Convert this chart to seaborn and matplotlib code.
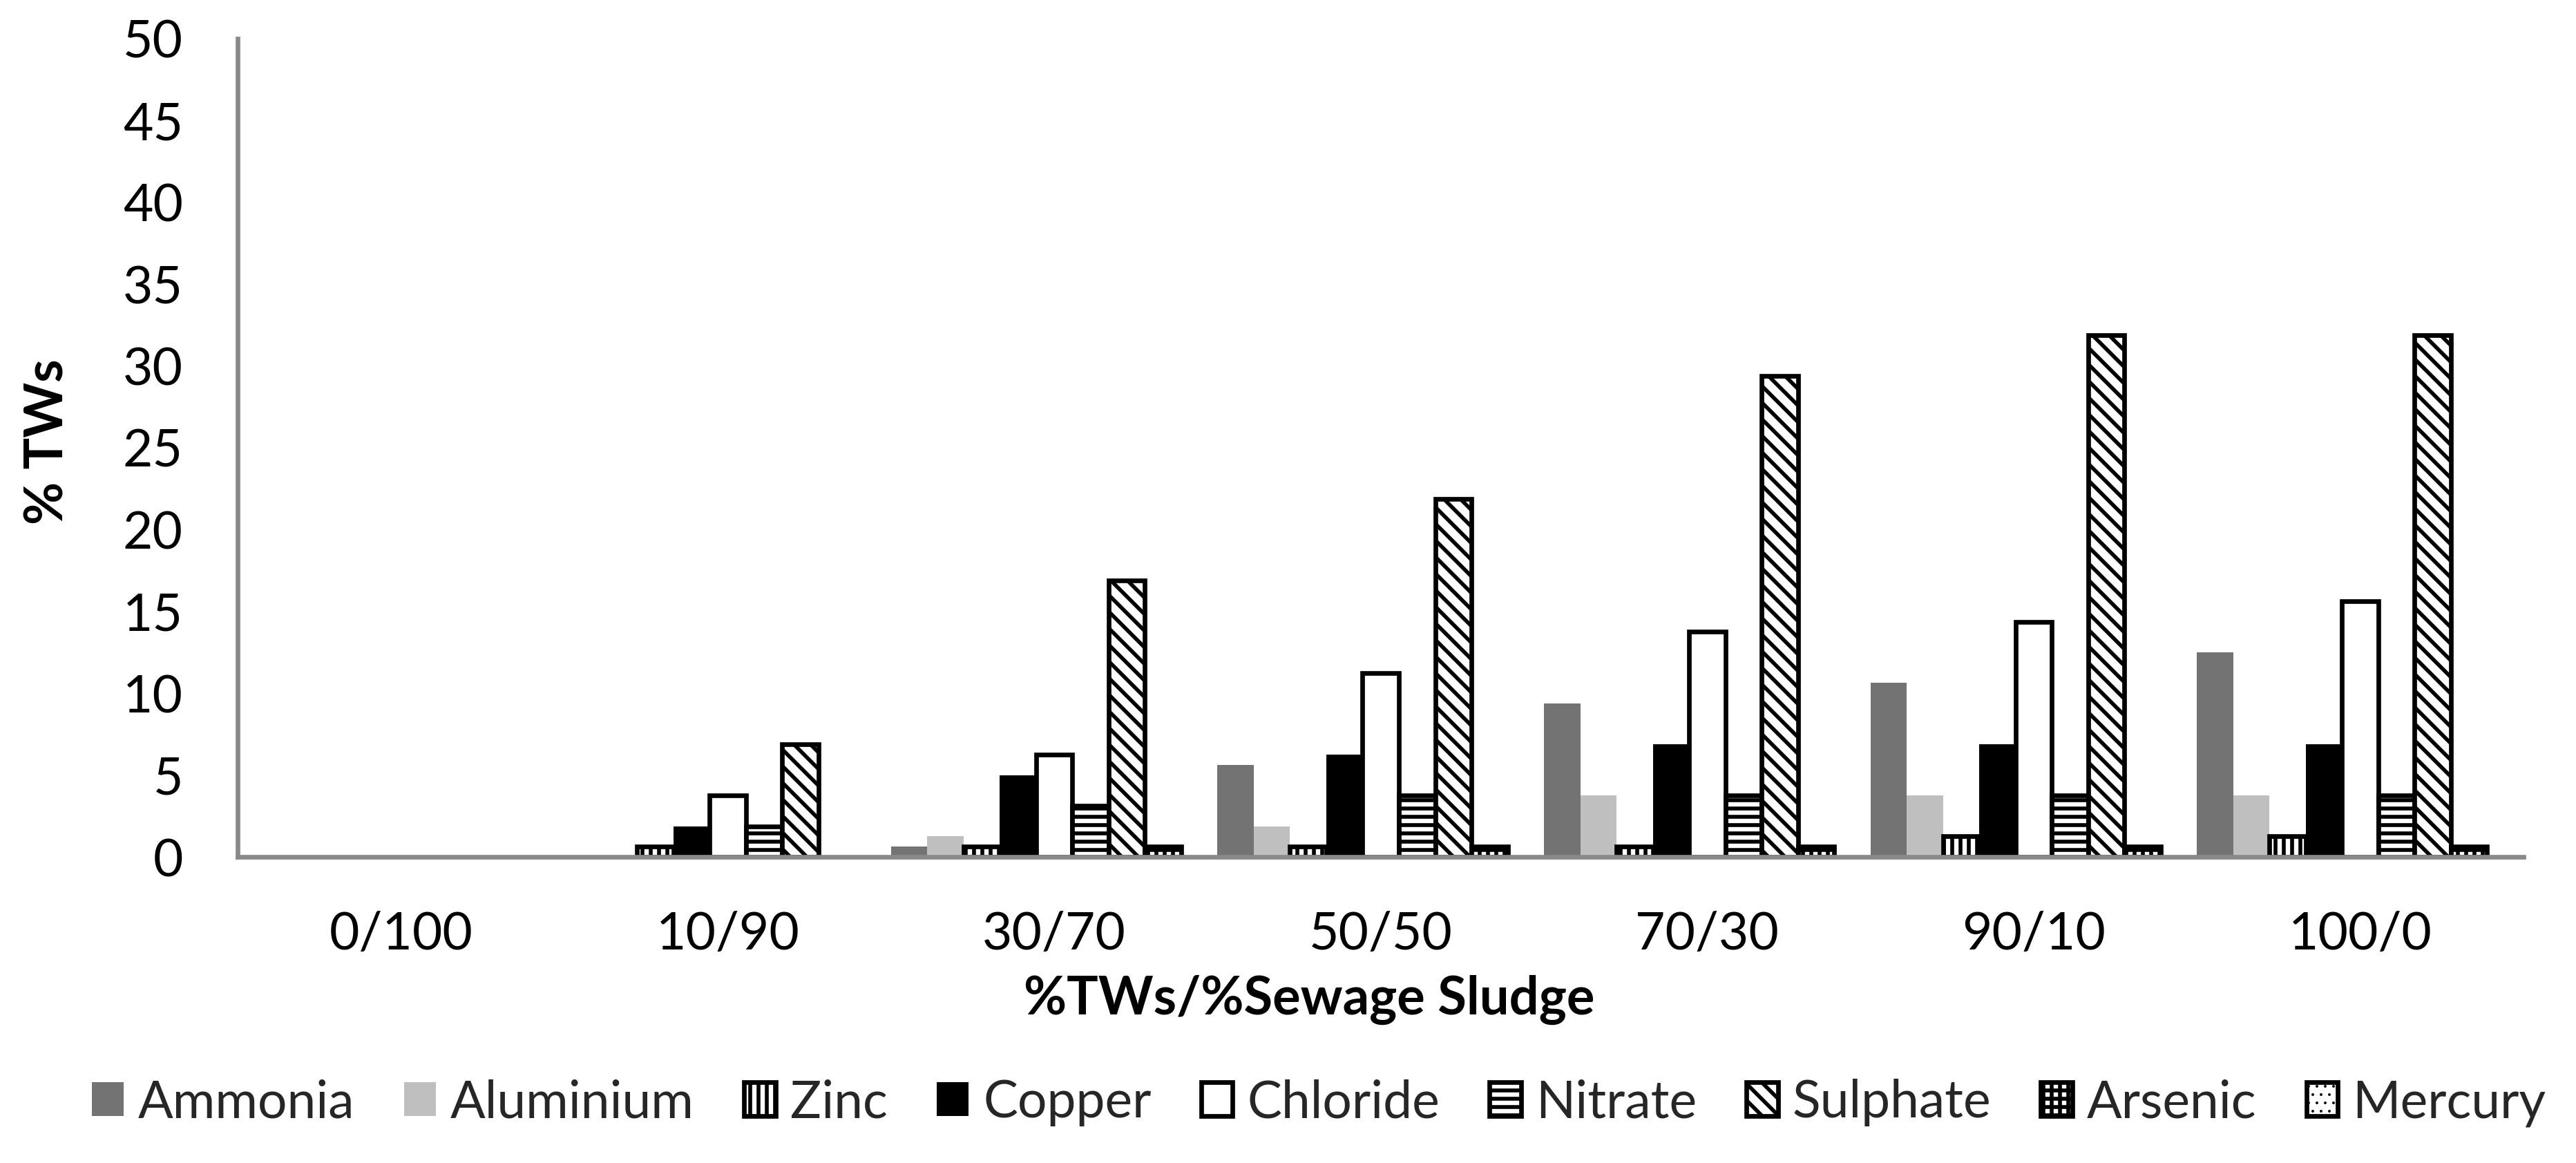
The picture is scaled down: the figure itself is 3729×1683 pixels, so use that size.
import numpy as np
import pandas as pd
import matplotlib
matplotlib.use("Agg")
import matplotlib.pyplot as plt
import matplotlib.patches as mpatches
import seaborn as sns

# ---------------- data ----------------
mixes = ["0/100", "10/90", "30/70", "50/50", "70/30", "90/10", "100/0"]
elements = ["Ammonia", "Aluminium", "Zinc", "Copper", "Chloride",
            "Nitrate", "Sulphate", "Arsenic", "Mercury"]

ammonia   = [0, 0,     0.625, 5.625, 9.375, 10.625, 12.5]
aluminium = [0, 0,     1.25,  1.875, 3.75,  3.75,   3.75]
zinc      = [0, 0.625, 0.625, 0.625, 0.625, 1.25,   1.25]
copper    = [0, 1.875, 5.0,   6.25,  6.875, 6.875,  6.875]
chloride  = [0, 3.75,  6.25,  11.25, 13.75, 14.375, 15.625]
nitrate   = [0, 1.875, 3.125, 3.75,  3.75,  3.75,   3.75]
sulphate  = [0, 6.875, 16.875, 21.875, 29.375, 31.875, 31.875]
arsenic   = [0, 0,     0.625, 0.625, 0.625, 0.625,  0.625]
mercury   = [0, 0,     0,     0,     0,     0,      0]

y_ticks = [0, 5, 10, 15, 20, 25, 30, 35, 40, 45, 50]
x_title = "%TWs/%Sewage Sludge"
y_title = "% TWs"

# ---------------- styles ----------------
face = {"Ammonia": "#737373", "Aluminium": "#bfbfbf", "Zinc": "white",
        "Copper": "black", "Chloride": "white", "Nitrate": "white",
        "Sulphate": "white", "Arsenic": "white", "Mercury": "white"}
hatches = {"Zinc": "|", "Nitrate": "-", "Sulphate": "\\",
           "Arsenic": "+", "Mercury": "."}
outlined = {"Zinc", "Chloride", "Nitrate", "Sulphate", "Arsenic", "Mercury"}
GRAY = "#898989"
LW = 6.7          # points (dpi 72 -> pixels)
DPI = 72

sns.set_style("white")
plt.rcParams["font.family"] = ["Lato", "DejaVu Sans"]
plt.rcParams["hatch.linewidth"] = 5.6
plt.rcParams["hatch.color"] = "black"

series = dict(zip(elements, [ammonia, aluminium, zinc, copper, chloride,
                             nitrate, sulphate, arsenic, mercury]))
df = (pd.DataFrame(series, index=mixes)
      .rename_axis("Mix").reset_index()
      .melt(id_vars="Mix", var_name="Element", value_name="Value"))

fig = plt.figure(figsize=(3729 / DPI, 1683 / DPI), dpi=DPI)
ax = fig.add_axes([0.09238, 0.26322, 0.88724, 0.70351])

sns.barplot(data=df, x="Mix", y="Value", hue="Element", order=mixes,
            hue_order=elements, palette=face, width=1.0, gap=0,
            errorbar=None, saturation=1, legend=False, ax=ax)

for cont, el in zip(ax.containers, elements):
    for bar in cont:
        if el in outlined:
            bar.set_edgecolor("black")
            bar.set_linewidth(LW)
            if el in hatches:
                bar.set_hatch(hatches[el])
        else:
            bar.set_edgecolor("none")
            bar.set_linewidth(0)
        if bar.get_height() == 0:
            bar.set_linewidth(0)
            bar.set_hatch(None)

ax.set_xlim(-0.5, len(mixes) - 0.5)
ax.set_ylim(0, 50)
ax.set_yticks(y_ticks)
ax.set_xticks(range(len(mixes)))
ax.set_xticklabels(mixes)
ax.set_xticks(np.arange(-0.5, len(mixes), 1.0), minor=True)

ax.tick_params(axis="x", which="major", length=0, pad=78, labelsize=75,
               labelcolor="black")
ax.tick_params(axis="x", which="minor", length=27, width=LW, color=GRAY,
               direction="out")
ax.tick_params(axis="y", which="major", length=26, width=LW, color=GRAY,
               direction="out", pad=53.5, labelsize=75, labelcolor="black")

for s in ["top", "right"]:
    ax.spines[s].set_visible(False)
for s in ["left", "bottom"]:
    ax.spines[s].set_color(GRAY)
    ax.spines[s].set_linewidth(LW)

ax.set_xlabel(x_title, fontsize=76, fontweight="bold", color="black")
ax.xaxis.set_label_coords(0.4687, -0.1444)
ax.set_ylabel(y_title, fontsize=76, fontweight="bold", color="black")
ax.yaxis.set_label_coords(-0.0725, 0.507)

handles = []
for el in elements:
    if el in outlined:
        h = mpatches.Patch(facecolor=face[el], edgecolor="black",
                           hatch=hatches.get(el), linewidth=LW, label=el)
    else:
        h = mpatches.Patch(facecolor=face[el], edgecolor="none",
                           linewidth=0, label=el)
    handles.append(h)

leg = fig.legend(handles=handles, loc="center", bbox_to_anchor=(0.512, 0.0517),
                 ncol=len(elements), frameon=False, fontsize=75,
                 handlelength=0.61, handleheight=0.63, handletextpad=0.28,
                 columnspacing=0.96, borderpad=0, borderaxespad=0)

# lighter dot pattern for the Mercury legend key
merc = leg.legend_handles[elements.index("Mercury")]
if hasattr(merc, "set_hatch_linewidth"):
    merc.set_hatch_linewidth(1.5)

fig.savefig("out.png", dpi=DPI, facecolor="white")
